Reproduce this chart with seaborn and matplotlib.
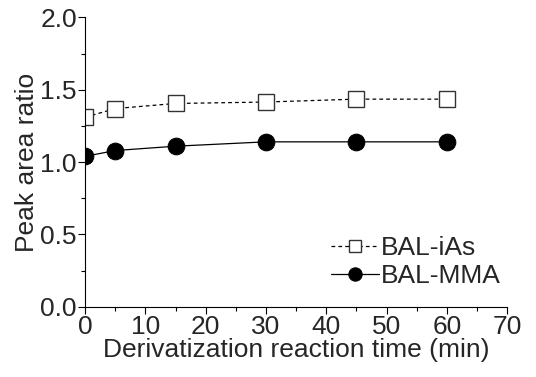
import matplotlib
matplotlib.use("Agg")
import matplotlib.pyplot as plt
import seaborn as sns
import pandas as pd
from matplotlib.ticker import MultipleLocator

time_min = [0, 5, 15, 30, 45, 60]
bal_ias = [1.31, 1.37, 1.405, 1.415, 1.435, 1.435]
bal_mma = [1.04, 1.08, 1.11, 1.14, 1.14, 1.14]

df_ias = pd.DataFrame({"time": time_min, "ratio": bal_ias})
df_mma = pd.DataFrame({"time": time_min, "ratio": bal_mma})

sns.set_theme(style="ticks")
plt.rcParams["font.family"] = ["Liberation Sans", "DejaVu Sans"]

fig = plt.figure(figsize=(5.36, 3.77), dpi=100)
ax = fig.add_axes([0.159, 0.186, 0.787, 0.768])

sns.lineplot(data=df_ias, x="time", y="ratio", ax=ax, color="black", linewidth=0.9,
             linestyle=(0, (3, 2.5)), marker="s", markersize=11, markerfacecolor="white",
             markeredgecolor="#333333", markeredgewidth=1.0, label="BAL-iAs")
sns.lineplot(data=df_mma, x="time", y="ratio", ax=ax, color="black", linewidth=0.9,
             marker="o", markersize=12, markerfacecolor="black", markeredgecolor="black",
             label="BAL-MMA")

ax.set_xlim(0, 70)
ax.set_ylim(0, 2.0)
ax.xaxis.set_major_locator(MultipleLocator(10))
ax.xaxis.set_minor_locator(MultipleLocator(5))
ax.yaxis.set_major_locator(MultipleLocator(0.5))
ax.yaxis.set_minor_locator(MultipleLocator(0.25))
ax.yaxis.set_major_formatter(matplotlib.ticker.FormatStrFormatter("%.1f"))
ax.tick_params(axis="both", which="major", length=5, width=0.8, labelsize=19, pad=1, color="black")
ax.tick_params(axis="both", which="minor", length=3, width=0.8, color="black")
for s in ["top", "right"]:
    ax.spines[s].set_visible(False)
for s in ["left", "bottom"]:
    ax.spines[s].set_linewidth(0.8)
    ax.spines[s].set_color("black")

ax.set_xlabel("Derivatization reaction time (min)", fontsize=19, labelpad=-1)
ax.set_ylabel("Peak area ratio", fontsize=19, labelpad=1)

leg = ax.legend(loc="lower right", bbox_to_anchor=(1.03, 0.0), frameon=False, fontsize=19,
                markerscale=0.8, handlelength=1.8, handletextpad=0.1, labelspacing=0.15,
                borderpad=0.2)

fig.savefig("out.png", dpi=100)
